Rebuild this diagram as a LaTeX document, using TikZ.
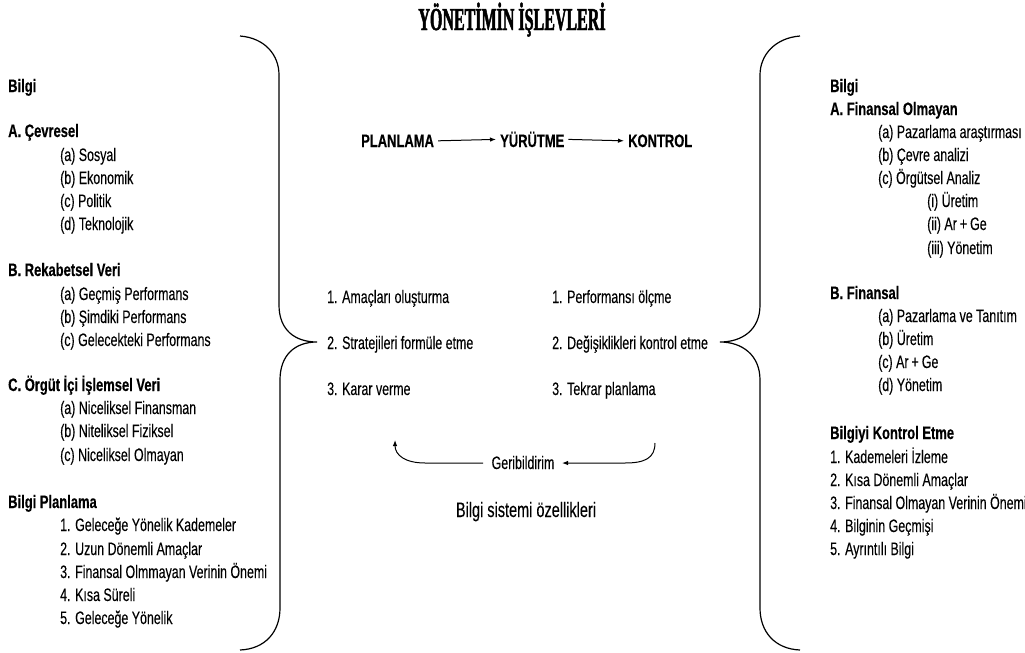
\documentclass[tikz,border=0pt]{standalone}
\usepackage{fontspec}
\setmainfont{Liberation Sans}[FakeStretch=0.69, FakeBold=0.15]
\newfontfamily\headfont{Liberation Sans Bold}[FakeStretch=0.72, FakeBold=0.4]
\newfontfamily\titlefont{Liberation Serif Bold}[FakeStretch=0.5, FakeBold=1.5]
\usetikzlibrary{arrows.meta}

\begin{document}
\begin{tikzpicture}[x=1pt,y=-1pt,
  txt/.style={anchor=base west, yshift=-6pt, inner sep=0pt, font=\fontsize{18}{21}\selectfont},
  head/.style={anchor=base west, yshift=-6pt, inner sep=0pt, font=\headfont\fontsize{18}{21}\selectfont},
  ctr/.style={anchor=base, yshift=-6pt, inner sep=0pt, font=\fontsize{18}{21}\selectfont},
  brace/.style={line width=1.2pt},
  flow/.style={line width=1pt, -{Latex[length=6pt,width=4.5pt]}}]
\useasboundingbox (0,0) rectangle (1025,653);

% title
\node[anchor=base, inner sep=0pt, font=\titlefont\fontsize{32}{36}\selectfont] (title) at (512,30) {YÖNETİMİN İŞLEVLERİ};

% left column: information for planning
\node[head] (lb0) at (8,86) {Bilgi};
\node[head] (lA) at (8,131) {A. Çevresel};
\node[txt] (lAa) at (60,155) {(a) Sosyal};
\node[txt] (lAb) at (60,178) {(b) Ekonomik};
\node[txt] (lAc) at (60,201) {(c) Politik};
\node[txt] (lAd) at (60,224) {(d) Teknolojik};
\node[head] (lB) at (8,270) {B. Rekabetsel Veri};
\node[txt] (lBa) at (60,294) {(a) Geçmiş Performans};
\node[txt] (lBb) at (60,317) {(b) Şimdiki Performans};
\node[txt] (lBc) at (60,340) {(c) Gelecekteki Performans};
\node[head] (lC) at (8,385) {C. Örgüt İçi İşlemsel Veri};
\node[txt] (lCa) at (60,408) {(a) Niceliksel Finansman};
\node[txt] (lCb) at (60,431) {(b) Niteliksel Fiziksel};
\node[txt] (lCc) at (60,455) {(c) Niceliksel Olmayan};
\node[head] (lP) at (8,502) {Bilgi Planlama};
\node[txt] (lP1) at (60,525) {1. Geleceğe Yönelik Kademeler};
\node[txt] (lP2) at (60,549) {2. Uzun Dönemli Amaçlar};
\node[txt] (lP3) at (60,572) {3. Finansal Olmmayan Verinin Önemi};
\node[txt] (lP4) at (60,595) {4. Kısa Süreli};
\node[txt] (lP5) at (60,618) {5. Geleceğe Yönelik};

% right column: information for control
\node[head] (rb0) at (830,86) {Bilgi};
\node[head] (rA) at (830,109) {A. Finansal Olmayan};
\node[txt] (rAa) at (878,132) {(a) Pazarlama araştırması};
\node[txt] (rAb) at (878,155) {(b) Çevre analizi};
\node[txt] (rAc) at (878,178) {(c) Örgütsel Analiz};
\node[txt] (rAc1) at (927,201) {(i) Üretim};
\node[txt] (rAc2) at (927,224) {(ii) Ar\,+\,Ge};
\node[txt] (rAc3) at (927,248) {(iii) Yönetim};
\node[head] (rB) at (830,293) {B. Finansal};
\node[txt] (rBa) at (878,316) {(a) Pazarlama ve Tanıtım};
\node[txt] (rBb) at (878,339) {(b) Üretim};
\node[txt] (rBc) at (878,362) {(c) Ar\,+\,Ge};
\node[txt] (rBd) at (878,385) {(d) Yönetim};
\node[head] (rK) at (830,433) {Bilgiyi Kontrol Etme};
\node[txt] (rK1) at (830,457) {1. Kademeleri İzleme};
\node[txt] (rK2) at (830,480) {2. Kısa Dönemli Amaçlar};
\node[txt] (rK3) at (830,503) {3. Finansal Olmayan Verinin Önemi};
\node[txt] (rK4) at (830,526) {4. Bilginin Geçmişi};
\node[txt] (rK5) at (830,549) {5. Ayrıntılı Bilgi};

% management cycle
\node[head] (plan) at (361,141) {PLANLAMA};
\node[head] (yur) at (500,141) {YÜRÜTME};
\node[head] (kon) at (628,141) {KONTROL};
\draw[flow] ([xshift=4pt]plan.east) -- ([xshift=-4pt]yur.west);
\draw[flow] ([xshift=4pt]yur.east) -- ([xshift=-4pt]kon.west);

\node[txt] (p1) at (327,297) {1. Amaçları oluşturma};
\node[txt] (p2) at (327,343) {2. Stratejileri formüle etme};
\node[txt] (p3) at (327,389) {3. Karar verme};
\node[txt] (k1) at (552,297) {1. Performansı ölçme};
\node[txt] (k2) at (552,343) {2. Değişiklikleri kontrol etme};
\node[txt] (k3) at (552,389) {3. Tekrar planlama};

% feedback loop
\node[ctr] (geri) at (523,463) {Geribildirim};
\coordinate (fbstart) at (655,443);
\coordinate (fbend) at (395,440);
\draw[flow] (fbstart) .. controls (655,458) and (645,463) .. (625,463) -- (562,463);
\draw[flow] (483,463) -- (425,463) .. controls (405,463) and (395,455) .. (fbend);

\node[ctr, font=\fontsize{21}{24}\selectfont, yshift=-1pt] (bss) at (526,510) {Bilgi sistemi özellikleri};

% left brace
\draw[brace] (240,36) .. controls (265,38) and (279,55) .. (279,75) -- (279,305)
  .. controls (279,330) and (295,342) .. (317,342)
  .. controls (295,342) and (280,355) .. (280,380) -- (280,608)
  .. controls (280,632) and (265,649) .. (240,650);
% right brace
\draw[brace] (800,36) .. controls (775,38) and (760,55) .. (760,75) -- (760,305)
  .. controls (760,330) and (742,342) .. (720,342)
  .. controls (742,342) and (760,355) .. (760,380) -- (760,608)
  .. controls (760,632) and (775,649) .. (800,650);
\end{tikzpicture}
\end{document}
